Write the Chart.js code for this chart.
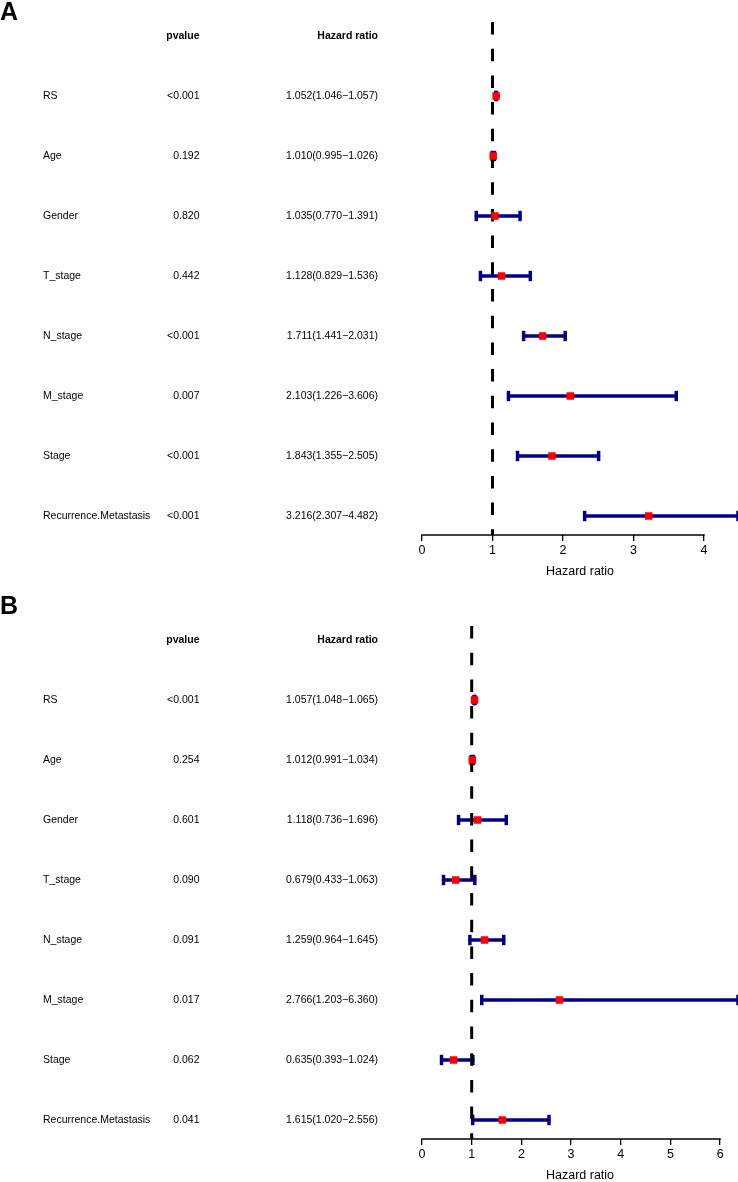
<!DOCTYPE html>
<html>
<head>
<meta charset="utf-8">
<title>Forest plots</title>
<script src="https://cdn.jsdelivr.net/npm/chart.js@4.4.1/dist/chart.umd.min.js"></script>
<style>
  html, body { margin: 0; padding: 0; background: #fff; }
  canvas { display: block; }
</style>
</head>
<body>
<canvas id="forestA" width="738" height="590"></canvas>
<canvas id="forestB" width="738" height="592"></canvas>
<script>
// rows, shared by both panels
const variables = ["RS", "Age", "Gender", "T_stage", "N_stage", "M_stage", "Stage", "Recurrence.Metastasis"];

// panel A
const pvalA = ["<0.001", "0.192", "0.820", "0.442", "<0.001", "0.007", "<0.001", "<0.001"];
const hrA   = [1.052, 1.010, 1.035, 1.128, 1.711, 2.103, 1.843, 3.216];
const lowA  = [1.046, 0.995, 0.770, 0.829, 1.441, 1.226, 1.355, 2.307];
const highA = [1.057, 1.026, 1.391, 1.536, 2.031, 3.606, 2.505, 4.482];
const ticksA = [0, 1, 2, 3, 4];

// panel B
const pvalB = ["<0.001", "0.254", "0.601", "0.090", "0.091", "0.017", "0.062", "0.041"];
const hrB   = [1.057, 1.012, 1.118, 0.679, 1.259, 2.766, 0.635, 1.615];
const lowB  = [1.048, 0.991, 0.736, 0.433, 0.964, 1.203, 0.393, 1.020];
const highB = [1.065, 1.034, 1.696, 1.063, 1.645, 6.360, 1.024, 2.556];
const ticksB = [0, 1, 2, 3, 4, 5, 6];

const refLine = 1;
const FONT = "'Liberation Sans', Arial, sans-serif";

// texte du tableau à gauche + lettre du panneau
const tablePlugin = {
    id: "tableText",
    afterDraw(chart, args, o) {
        const ctx = chart.ctx;
        const y = chart.scales.y;
        ctx.save();
        ctx.fillStyle = "#000";

        ctx.font = `bold 25px ${FONT}`;
        ctx.textAlign = "left";
        ctx.textBaseline = "alphabetic";
        ctx.fillText(o.letter, 0, o.letterY);

        ctx.textBaseline = "middle";
        const yh = y.getPixelForValue(0);
        ctx.font = `bold 10.5px ${FONT}`;
        ctx.textAlign = "right";
        ctx.fillText("pvalue", 199.5, yh);
        ctx.fillText("Hazard ratio", 378, yh);

        ctx.font = `10.5px ${FONT}`;
        variables.forEach((name, i) => {
            const yy = y.getPixelForValue(i + 1);
            ctx.textAlign = "left";
            ctx.fillText(name, 43, yy);
            ctx.textAlign = "right";
            ctx.fillText(o.pvals[i], 199.5, yy);
            const txt = `${o.hr[i].toFixed(3)}(${o.low[i].toFixed(3)}\u2212${o.high[i].toFixed(3)})`;
            ctx.fillText(txt, 378, yy);
        });
        ctx.restore();
    }
};

// axe x limité aux graduations (comme axis(1) dans R)
const axisLinePlugin = {
    id: "axisLine",
    afterDraw(chart) {
        const x = chart.scales.x;
        const t = x.ticks;
        if (!t.length) return;
        const ctx = chart.ctx;
        ctx.save();
        ctx.strokeStyle = "#000";
        ctx.lineWidth = 1.5;
        ctx.beginPath();
        ctx.moveTo(x.getPixelForValue(t[0].value) - 0.7, x.top);
        ctx.lineTo(x.getPixelForValue(t[t.length - 1].value) + 0.7, x.top);
        ctx.stroke();
        ctx.restore();
    }
};

function drawForest(id, letter, pvals, hr, low, high, ticks, lay) {
    const canvas = document.getElementById(id);
    const H = canvas.height;
    const yMin = -14 / 60, yMax = 8 + 19 / 60;

    const bars = variables.map((v, i) => ({
        label: v,
        order: 2,
        showLine: true,
        data: [{ x: low[i], y: i + 1 }, { x: high[i], y: i + 1 }],
        borderColor: "#00008B",
        borderWidth: 3.3,
        borderCapStyle: "round",
        pointStyle: "line",
        pointRotation: 90,
        pointRadius: 5.2,
        pointHoverRadius: 5.2,
        pointBorderWidth: 3.5,
        pointBorderColor: "#00008B",
        clip: false
    }));

    const dashed = {
        label: "ref",
        order: 1,
        showLine: true,
        data: [{ x: refLine, y: yMin }, { x: refLine, y: yMax }],
        borderColor: "#000",
        borderWidth: 3,
        borderDash: [12.5, 14.2],
        pointRadius: 0,
        pointHoverRadius: 0
    };

    const boxes = {
        label: "HR",
        order: 0,
        data: hr.map((h, i) => ({ x: h, y: i + 1 })),
        pointStyle: "rect",
        pointRadius: 5.3,
        pointHoverRadius: 5.3,
        pointBackgroundColor: "#FF0000",
        pointBorderWidth: 0,
        clip: false
    };

    return new Chart(canvas, {
        type: "scatter",
        data: { datasets: [dashed, ...bars, boxes] },
        options: {
            responsive: false,
            animation: false,
            events: [],
            layout: { autoPadding: false, padding: { left: 422, right: 0, top: lay.top, bottom: 0 } },
            plugins: {
                legend: { display: false },
                tooltip: { enabled: false },
                tableText: { letter, letterY: lay.letterY, pvals, hr, low, high }
            },
            scales: {
                x: {
                    type: "linear",
                    min: 0,
                    max: Math.max(...high),
                    afterBuildTicks: s => { s.ticks = ticks.map(v => ({ value: v })); },
                    afterFit: s => {
                        s.height = H - lay.axisY;
                        s.paddingLeft = 0;
                        s.paddingRight = 0;
                    },
                    border: { display: false },
                    grid: { drawOnChartArea: false, drawTicks: true, tickLength: 6, color: "#000", lineWidth: 1.3 },
                    ticks: { color: "#000", font: { family: FONT, size: 12.5 }, padding: 2, maxRotation: 0, autoSkip: false },
                    title: {
                        display: true, text: "Hazard ratio", color: "#000",
                        font: { family: FONT, size: 12.5, lineHeight: 1 },
                        padding: { top: 0, bottom: lay.titlePad }
                    }
                },
                y: { type: "linear", display: false, reverse: true, min: yMin, max: yMax }
            }
        },
        plugins: [tablePlugin, axisLinePlugin]
    });
}

drawForest("forestA", "A", pvalA, hrA, lowA, highA, ticksA, { top: 22, axisY: 535, letterY: 20, titlePad: 11.75 });
drawForest("forestB", "B", pvalB, hrB, lowB, highB, ticksB, { top: 36, axisY: 549, letterY: 24, titlePad: 0 });
</script>
</body>
</html>
